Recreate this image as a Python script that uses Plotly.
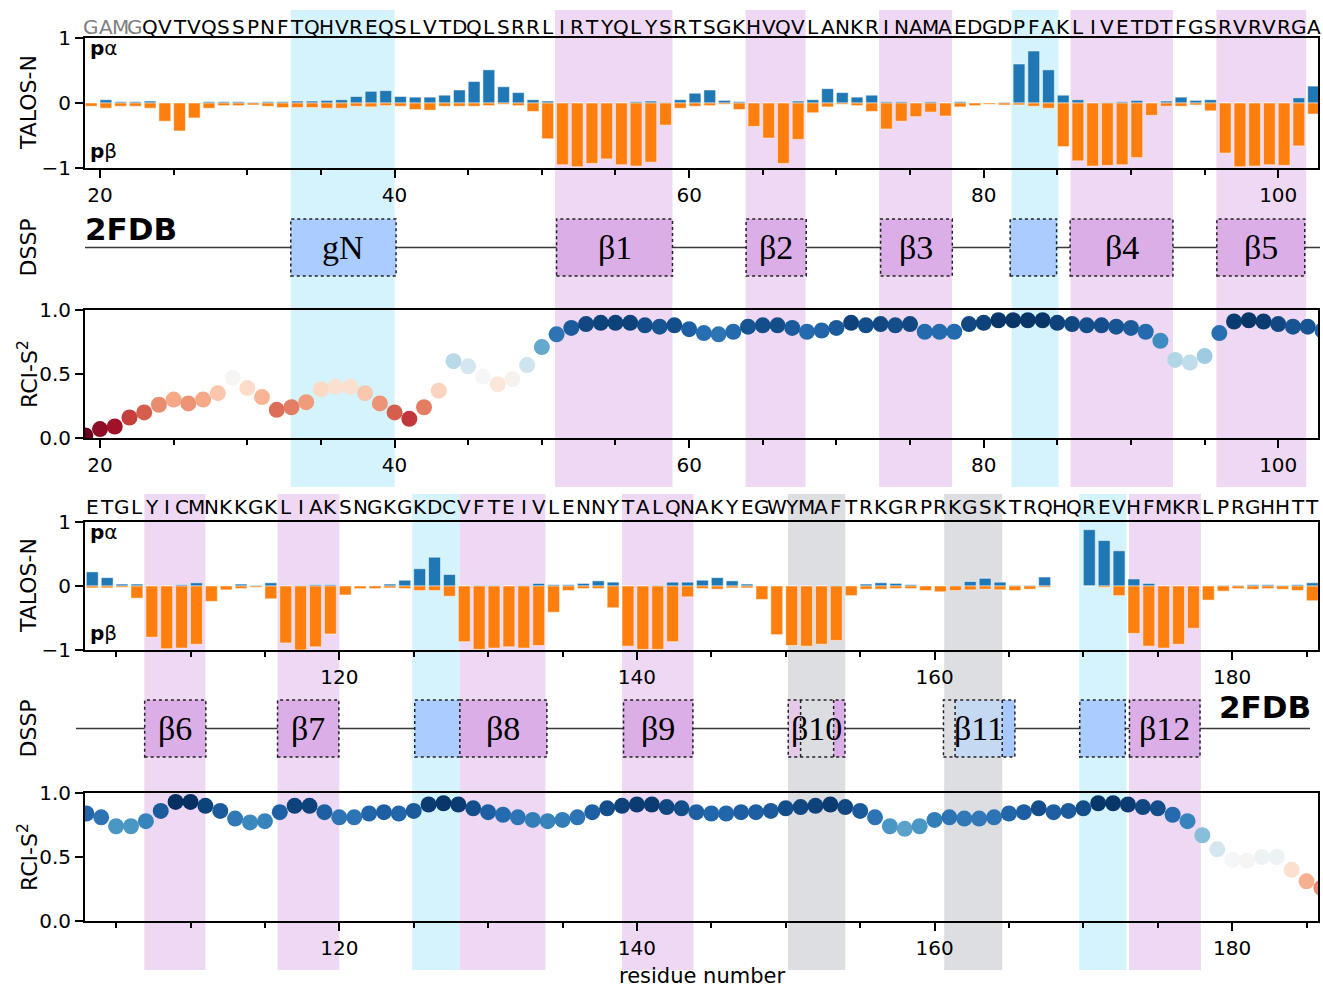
import plotly.graph_objects as go

W, H = 1323, 990

# ---------------------------------------------------------------- sequence
SEQ_TOP = "GAMGQVTVQSSPNFTQHVREQSLVTDQLSRRLIRTYQLYSRTSGKHVQVLANKRINAMAEDGDPFAKLIVETDTFGSRVRVRGA"
SEQ_BOTTOM = "ETGLYICMNKKGKLIAKSNGKGKDCVFTEIVLENNYTALQNAKYEGWYMAFTRKGRPRKGSKTRQHQREVHFMKRLPRGHHTT"
FIRST_TOP = 19
FIRST_BOTTOM = 103
TAG_LENGTH = 4  # GAMG cloning remnant, drawn in grey

# ------------------------------------------- TALOS-N probabilities (per residue)
P_ALPHA_TOP = [
    0.00, 0.05, 0.02, 0.02, 0.03, 0.00, 0.00, 0.00, 0.02, 0.02,   # 19-28
    0.02, 0.01, 0.02, 0.02, 0.03, 0.03, 0.04, 0.05, 0.10, 0.18,   # 29-38
    0.19, 0.10, 0.09, 0.09, 0.12, 0.20, 0.33, 0.51, 0.25, 0.16,   # 39-48
    0.05, 0.03, 0.00, 0.00, 0.00, 0.00, 0.00, 0.02, 0.03, 0.01,   # 49-58
    0.05, 0.15, 0.20, 0.04, 0.02, 0.00, 0.00, 0.00, 0.03, 0.05,   # 59-68
    0.22, 0.16, 0.09, 0.12, 0.02, 0.02, 0.00, 0.02, 0.00, 0.02,   # 69-78
    0.00, 0.00, 0.01, 0.60, 0.80, 0.51, 0.12, 0.05, 0.00, 0.01,   # 79-88
    0.02, 0.04, 0.00, 0.03, 0.09, 0.04, 0.05, 0.00, 0.00, 0.00,   # 89-98
    0.00, 0.00, 0.08, 0.26,                                       # 99-102
]
P_BETA_TOP = [
    0.05, 0.08, 0.05, 0.05, 0.08, 0.28, 0.43, 0.23, 0.08, 0.04,   # 19-28
    0.04, 0.03, 0.05, 0.07, 0.07, 0.07, 0.08, 0.08, 0.05, 0.06,   # 29-38
    0.04, 0.05, 0.10, 0.11, 0.05, 0.05, 0.05, 0.04, 0.02, 0.04,   # 39-48
    0.13, 0.55, 0.95, 0.98, 0.93, 0.86, 0.95, 0.97, 0.91, 0.34,   # 49-58
    0.08, 0.05, 0.04, 0.02, 0.10, 0.36, 0.54, 0.93, 0.56, 0.15,   # 59-68
    0.06, 0.02, 0.04, 0.13, 0.40, 0.28, 0.21, 0.14, 0.20, 0.06,   # 69-78
    0.04, 0.02, 0.03, 0.03, 0.05, 0.08, 0.67, 0.89, 0.97, 0.96,   # 79-88
    0.95, 0.84, 0.19, 0.05, 0.05, 0.03, 0.12, 0.77, 0.98, 0.97,   # 89-98
    0.95, 0.96, 0.66, 0.17,                                       # 99-102
]
P_ALPHA_BOTTOM = [
    0.22, 0.13, 0.03, 0.03, 0.00, 0.00, 0.02, 0.05, 0.00, 0.00,   # 103-112
    0.03, 0.01, 0.05, 0.00, 0.01, 0.02, 0.02, 0.00, 0.00, 0.00,   # 113-122
    0.03, 0.09, 0.27, 0.45, 0.18, 0.00, 0.01, 0.01, 0.00, 0.01,   # 123-132
    0.04, 0.02, 0.02, 0.04, 0.08, 0.06, 0.00, 0.00, 0.01, 0.06,   # 133-142
    0.06, 0.09, 0.13, 0.08, 0.03, 0.00, 0.00, 0.00, 0.00, 0.00,   # 143-152
    0.01, 0.00, 0.03, 0.05, 0.04, 0.02, 0.00, 0.00, 0.01, 0.07,   # 153-162
    0.12, 0.06, 0.01, 0.01, 0.14, None, None, 0.88, 0.71, 0.55,   # 163-172
    0.11, 0.04, 0.00, 0.00, 0.00, 0.00, 0.01, 0.01, 0.02, 0.02,   # 173-182
    0.01, 0.02, 0.05,                                             # 183-185
]
P_BETA_BOTTOM = [
    0.03, 0.03, 0.02, 0.19, 0.80, 0.98, 0.97, 0.91, 0.24, 0.06,   # 103-112
    0.04, 0.02, 0.20, 0.89, 1.00, 0.95, 0.75, 0.14, 0.04, 0.04,   # 113-122
    0.03, 0.04, 0.07, 0.07, 0.16, 0.87, 0.99, 0.97, 0.95, 0.97,   # 123-132
    0.93, 0.41, 0.07, 0.04, 0.04, 0.34, 0.94, 0.99, 0.99, 0.87,   # 133-142
    0.17, 0.04, 0.05, 0.03, 0.03, 0.21, 0.76, 0.93, 0.94, 0.91,   # 143-152
    0.85, 0.15, 0.05, 0.05, 0.04, 0.04, 0.07, 0.09, 0.07, 0.06,   # 153-162
    0.05, 0.06, 0.07, 0.05, 0.02, None, None, 0.00, 0.02, 0.15,   # 163-172
    0.74, 0.94, 0.97, 0.91, 0.66, 0.22, 0.08, 0.04, 0.05, 0.04,   # 173-182
    0.05, 0.07, 0.23,                                             # 183-185
]

# ------------------------------------------------------- RCI order parameter
RCI_RES_TOP = list(range(19, 104))
RCI_TOP = [
    0.02, 0.07, 0.09, 0.16, 0.20, 0.26, 0.30, 0.27, 0.30, 0.35,   # 19-28
    0.47, 0.39, 0.32, 0.22, 0.24, 0.28, 0.38, 0.40, 0.40, 0.35,   # 29-38
    0.27, 0.20, 0.15, 0.24, 0.37, 0.60, 0.56, 0.48, 0.42, 0.46,   # 39-48
    0.57, 0.71, 0.81, 0.86, 0.89, 0.90, 0.90, 0.90, 0.88, 0.87,   # 49-58
    0.88, 0.85, 0.82, 0.81, 0.83, 0.87, 0.88, 0.88, 0.86, 0.83,   # 59-68
    0.84, 0.86, 0.90, 0.88, 0.89, 0.88, 0.89, 0.83, 0.83, 0.83,   # 69-78
    0.89, 0.90, 0.92, 0.92, 0.92, 0.92, 0.90, 0.89, 0.88, 0.88,   # 79-88
    0.87, 0.86, 0.83, 0.76, 0.61, 0.59, 0.64, 0.82, 0.91, 0.92,   # 89-98
    0.91, 0.89, 0.87, 0.87, 0.84,                                 # 99-103
]
RCI_RES_BOTTOM = list(range(103, 187))
RCI_BOTTOM = [
    0.84, 0.81, 0.74, 0.74, 0.78, 0.86, 0.93, 0.93, 0.90, 0.86,   # 103-112
    0.80, 0.77, 0.78, 0.85, 0.90, 0.90, 0.85, 0.81, 0.81, 0.84,   # 113-122
    0.85, 0.84, 0.86, 0.91, 0.92, 0.91, 0.88, 0.85, 0.83, 0.81,   # 123-132
    0.79, 0.78, 0.79, 0.81, 0.85, 0.88, 0.90, 0.91, 0.91, 0.89,   # 133-142
    0.88, 0.85, 0.84, 0.84, 0.85, 0.85, 0.86, 0.88, 0.89, 0.90,   # 143-152
    0.91, 0.89, 0.86, 0.81, 0.74, 0.72, 0.74, 0.79, 0.81, 0.80,   # 153-162
    0.80, 0.81, 0.84, 0.85, 0.88, 0.85, 0.86, 0.88, 0.92, 0.92,   # 163-172
    0.91, 0.89, 0.88, 0.83, 0.78, 0.67, 0.56, 0.48, 0.47, 0.50,   # 173-182
    0.50, 0.40, 0.31, 0.26,                                       # 183-186
]

# ------------------------------------------ secondary structure (residue spans)
SPANS_TOP = [(32.95, 40.0, "helix"), (50.9, 58.87, "sheet"), (63.84, 67.9, "sheet"),
             (72.9, 77.85, "sheet"), (81.9, 85.08, "helix"), (85.9, 92.85, "sheet"),
             (95.8, 101.9, "sheet")]
SPANS_BOTTOM = [(106.9, 111.0, "sheet"), (115.85, 120.0, "sheet"), (124.9, 128.1, "helix"),
                (128.1, 133.85, "sheet"), (139.0, 143.8, "sheet"), (150.15, 154.0, "other"),
                (160.65, 164.55, "other"), (169.72, 172.9, "helix"), (173.07, 177.9, "sheet")]

# DSSP boxes: (start, end, label, [(seg_start, seg_end, fill), ...])
SHEET_FILL = "#dcaee8"
HELIX_FILL = "#aaccff"
DSSP_TOP = [
    (32.95, 40.1, "gN", [(32.95, 40.1, HELIX_FILL)]),
    (51.0, 58.87, "β1", [(51.0, 58.87, SHEET_FILL)]),
    (63.87, 67.95, "β2", [(63.87, 67.95, SHEET_FILL)]),
    (73.0, 77.87, "β3", [(73.0, 77.87, SHEET_FILL)]),
    (81.8, 84.95, "", [(81.8, 84.95, HELIX_FILL)]),
    (85.87, 92.85, "β4", [(85.87, 92.85, SHEET_FILL)]),
    (95.83, 101.8, "β5", [(95.83, 101.8, SHEET_FILL)]),
]
DSSP_BOTTOM = [
    (106.92, 111.03, "β6", [(106.92, 111.03, SHEET_FILL)]),
    (115.85, 119.97, "β7", [(115.85, 119.97, SHEET_FILL)]),
    (125.07, 128.1, "", [(125.07, 128.1, HELIX_FILL)]),
    (128.1, 133.95, "β8", [(128.1, 133.95, SHEET_FILL)]),
    (139.1, 143.76, "β9", [(139.1, 143.76, SHEET_FILL)]),
    (150.17, 153.98, "β10", [(150.17, 151.0, "#e4c9e9"), (151.0, 153.22, "#dcdde1"),
                             (153.22, 153.98, SHEET_FILL)]),
    (160.6, 165.4, "β11", [(160.6, 161.38, "#dcdde1"), (161.38, 164.55, "#c6d9f2"),
                           (164.55, 165.4, "#a9c9fd")]),
    (169.76, 172.82, "", [(169.76, 172.82, HELIX_FILL)]),
    (173.1, 177.84, "β12", [(173.1, 177.84, SHEET_FILL)]),
]

X_RANGE_TOP = [18.98, 102.7]
X_RANGE_BOTTOM = [102.91, 185.77]

BLUE = "#1f77b4"
ORANGE = "#ff7f0e"
SPAN_FILL = {"helix": "rgb(212,243,252)", "sheet": "rgb(238,216,243)", "other": "rgb(220,222,226)"}
RDBU = ["rgb(103,0,31)", "rgb(178,24,43)", "rgb(214,96,77)", "rgb(244,165,130)",
        "rgb(253,219,199)", "rgb(247,247,247)", "rgb(209,229,240)", "rgb(146,197,222)",
        "rgb(67,147,195)", "rgb(33,102,172)", "rgb(5,48,97)"]
COLORSCALE = [[i / (len(RDBU) - 1), c] for i, c in enumerate(RDBU)]
CMIN = min(RCI_TOP + RCI_BOTTOM)
CMAX = max(RCI_TOP + RCI_BOTTOM)

FONT = "DejaVu Sans"
SERIF = "Liberation Serif"


def fy(px):
    """pixel row -> paper fraction"""
    return 1 - px / H


def fx(px):
    return px / W


X_DOMAIN = [fx(85), fx(1318)]

fig = go.Figure()
shapes = []
annotations = []

halves = [
    dict(seq=SEQ_TOP, first=FIRST_TOP, pa=P_ALPHA_TOP, pb=P_BETA_TOP,
         rci_res=RCI_RES_TOP, rci=RCI_TOP, spans=SPANS_TOP, dssp=DSSP_TOP,
         xr=X_RANGE_TOP, axes=("", "2", "3"),
         talos=(38, 168), dssp_dom=(205, 290), rci_dom=(310, 438),
         span_px=(10, 487), seq_y=27, line_px=(85, 1320), tag=TAG_LENGTH,
         pdb=(131, 229)),
    dict(seq=SEQ_BOTTOM, first=FIRST_BOTTOM, pa=P_ALPHA_BOTTOM, pb=P_BETA_BOTTOM,
         rci_res=RCI_RES_BOTTOM, rci=RCI_BOTTOM, spans=SPANS_BOTTOM, dssp=DSSP_BOTTOM,
         xr=X_RANGE_BOTTOM, axes=("4", "5", "6"),
         talos=(522, 650), dssp_dom=(686, 771), rci_dom=(793, 921),
         span_px=(494, 970), seq_y=507, line_px=(76, 1310), tag=0,
         pdb=(1265, 707)),
]

tick_font = dict(family=FONT, size=20, color="black")
minor = dict(ticks="outside", ticklen=5, tickwidth=1.5, tickcolor="black",
             dtick=5, tick0=0, showgrid=False)

for h in halves:
    a_t, a_d, a_r = h["axes"]
    xt, yt = "x" + a_t, "y" + a_t
    xd, yd = "x" + a_d, "y" + a_d
    xr_, yr_ = "x" + a_r, "y" + a_r
    res = list(range(h["first"], h["first"] + len(h["seq"])))

    # TALOS-N bars: p(alpha) upward, p(beta) downward
    edge = dict(color="rgba(255,255,255,0.5)", width=1)
    fig.add_trace(go.Bar(x=res, y=h["pa"], width=0.8, offset=0,
                         marker=dict(color=BLUE, line=edge), xaxis=xt, yaxis=yt,
                         showlegend=False))
    fig.add_trace(go.Bar(x=res, y=[None if v is None else -v for v in h["pb"]],
                         width=0.8, offset=0, marker=dict(color=ORANGE, line=edge),
                         xaxis=xt, yaxis=yt, showlegend=False))

    # placeholder so the DSSP subplot exists
    fig.add_trace(go.Scatter(x=[], y=[], xaxis=xd, yaxis=yd, showlegend=False))

    # RCI-S2 circles coloured by value
    fig.add_trace(go.Scatter(x=h["rci_res"], y=h["rci"], mode="markers",
                             marker=dict(size=16, color=h["rci"], colorscale=COLORSCALE,
                                         cmin=CMIN, cmax=CMAX, showscale=False),
                             cliponaxis=True, xaxis=xr_, yaxis=yr_, showlegend=False))

    # axes
    for xa, ya, dom, show in ((xt, yt, h["talos"], True), (xd, yd, h["dssp_dom"], False),
                              (xr_, yr_, h["rci_dom"], True)):
        xkey = "xaxis" + xa[1:]
        if show:
            fig.layout[xkey] = dict(domain=X_DOMAIN, anchor=ya, range=h["xr"],
                                    showline=True, mirror=True, linecolor="black",
                                    linewidth=2, ticks="outside", ticklen=8, tickwidth=1.5,
                                    tickcolor="black", tickmode="linear", tick0=0, dtick=20,
                                    minor=minor, showgrid=False, zeroline=False,
                                    tickfont=tick_font, automargin=False)
        else:
            fig.layout[xkey] = dict(domain=X_DOMAIN, anchor=ya, range=h["xr"],
                                    visible=False, automargin=False)
    fig.layout["yaxis" + a_t] = dict(domain=[fy(h["talos"][1]), fy(h["talos"][0])],
                                     anchor=xt, range=[-1, 1], showline=True, mirror=True,
                                     linecolor="black", linewidth=2, ticks="outside",
                                     ticklen=8, tickwidth=1.5, tickcolor="black",
                                     tickvals=[-1, 0, 1], ticktext=["\u22121", "0", "1"],
                                     showgrid=False, zeroline=False, tickfont=tick_font,
                                     automargin=False)
    fig.layout["yaxis" + a_d] = dict(domain=[fy(h["dssp_dom"][1]), fy(h["dssp_dom"][0])],
                                     anchor=xd, range=[0, 1], visible=False,
                                     automargin=False)
    fig.layout["yaxis" + a_r] = dict(domain=[fy(h["rci_dom"][1]), fy(h["rci_dom"][0])],
                                     anchor=xr_, range=[0, 1], showline=True, mirror=True,
                                     linecolor="black", linewidth=2, ticks="outside",
                                     ticklen=8, tickwidth=1.5, tickcolor="black",
                                     tickvals=[0, 0.5, 1.0], tickformat=".1f",
                                     showgrid=False, zeroline=False, tickfont=tick_font,
                                     automargin=False)

    # background bands marking secondary-structure elements
    for s0, s1, kind in h["spans"]:
        shapes.append(dict(type="rect", xref=xt, yref="paper", x0=s0, x1=s1,
                           y0=fy(h["span_px"][1]), y1=fy(h["span_px"][0]),
                           fillcolor=SPAN_FILL[kind], line=dict(width=0), layer="below"))

    # DSSP backbone line
    shapes.append(dict(type="line", xref="paper", yref=yd,
                       x0=fx(h["line_px"][0]), x1=fx(h["line_px"][1]), y0=0.5, y1=0.5,
                       line=dict(color="#3a3a3a", width=1.5)))
    # DSSP boxes
    by0, by1 = 0.165, 0.835
    for b0, b1, label, segs in h["dssp"]:
        for s0, s1, col in segs:
            shapes.append(dict(type="rect", xref=xd, yref=yd, x0=s0, x1=s1, y0=by0, y1=by1,
                               fillcolor=col, line=dict(width=0)))
        for s0, s1, col in segs[1:]:
            shapes.append(dict(type="line", xref=xd, yref=yd, x0=s0, x1=s0, y0=by0, y1=by1,
                               line=dict(color="#222", width=1.5, dash="dot")))
        shapes.append(dict(type="rect", xref=xd, yref=yd, x0=b0, x1=b1, y0=by0, y1=by1,
                           line=dict(color="#222", width=1.5, dash="dot")))
        if label:
            annotations.append(dict(x=(b0 + b1) / 2, y=0.5, xref=xd, yref=yd, text=label,
                                    showarrow=False, xanchor="center", yanchor="middle",
                                    font=dict(family=SERIF, size=34, color="black")))

    # one-letter sequence above the TALOS-N panel
    for i, aa in enumerate(h["seq"]):
        annotations.append(dict(x=res[i] + 0.4, y=fy(h["seq_y"]), xref=xt, yref="paper",
                                text=aa, showarrow=False, xanchor="center",
                                yanchor="middle",
                                font=dict(family=FONT, size=20,
                                          color="#808080" if i < h["tag"] else "black")))

    # p-alpha / p-beta labels inside the panel
    t0, t1 = h["talos"]
    annotations.append(dict(x=fx(88), y=fy(t0 + 10), xref="paper", yref="paper",
                            text="<b>p</b>\u03b1", showarrow=False, xanchor="left",
                            yanchor="middle", font=dict(family=FONT, size=20, color="black")))
    annotations.append(dict(x=fx(88), y=fy(t1 - 17), xref="paper", yref="paper",
                            text="<b>p</b>\u03b2", showarrow=False, xanchor="left",
                            yanchor="middle", font=dict(family=FONT, size=20, color="black")))

    # panel titles
    for text, (p0, p1) in (("TALOS-N", h["talos"]), ("DSSP", h["dssp_dom"]),
                           ("RCI-S<sup>2</sup>", h["rci_dom"])):
        annotations.append(dict(x=fx(28), y=fy((p0 + p1) / 2), xref="paper", yref="paper",
                                text=text, textangle=-90, showarrow=False,
                                xanchor="center", yanchor="middle",
                                font=dict(family=FONT, size=22, color="black")))

    # PDB entry tag
    annotations.append(dict(x=fx(h["pdb"][0]), y=fy(h["pdb"][1]), xref="paper",
                            yref="paper", text="<b>2FDB</b>", showarrow=False,
                            xanchor="center", yanchor="middle",
                            font=dict(family=FONT, size=31, color="black")))

annotations.append(dict(x=fx(702), y=fy(989), xref="paper", yref="paper",
                        text="residue number", showarrow=False, xanchor="center",
                        yanchor="bottom", borderpad=0,
                        font=dict(family=FONT, size=21, color="black")))

fig.update_layout(width=W, height=H,
                  margin=dict(l=0, r=0, t=0, b=0, pad=0, autoexpand=False),
                  paper_bgcolor="white", plot_bgcolor="rgba(0,0,0,0)",
                  barmode="overlay", showlegend=False, shapes=shapes,
                  annotations=annotations, font=dict(family=FONT, color="black"))

fig.write_html("out.html")
